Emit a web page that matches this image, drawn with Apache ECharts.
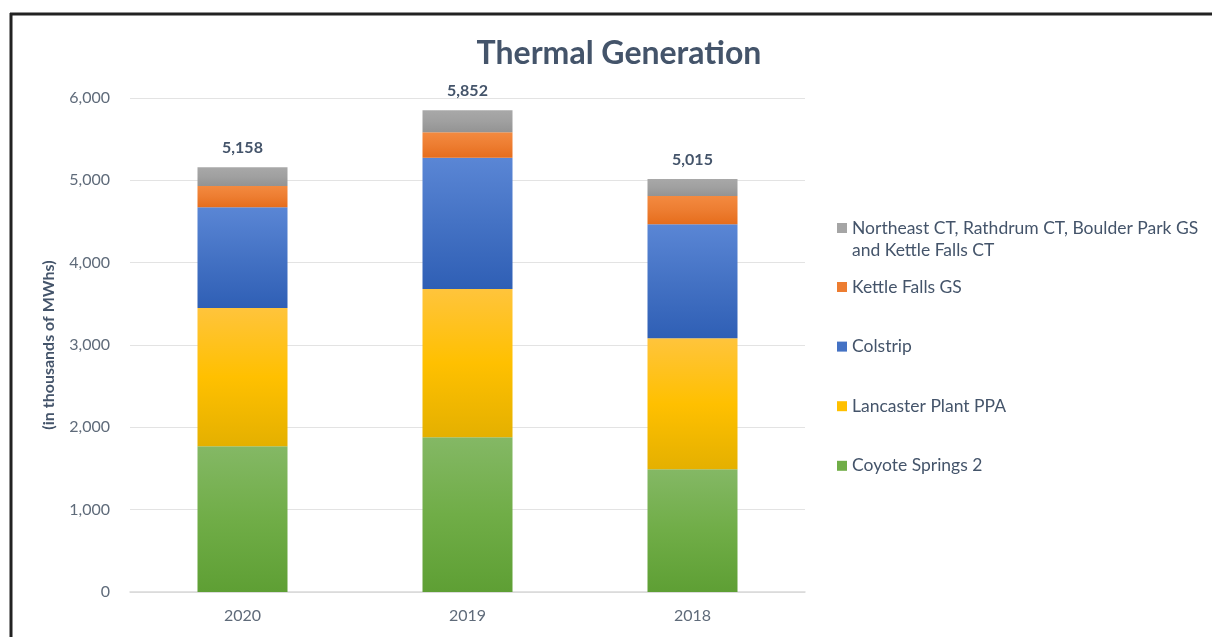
<!DOCTYPE html>
<html>
<head>
<meta charset="utf-8">
<script src="https://cdn.jsdelivr.net/npm/echarts@6/dist/echarts.min.js"></script>
<style>
  html, body { margin: 0; padding: 0; background: #fff; }
  #chart { width: 1212px; height: 637px; }
</style>
</head>
<body>
<div id="chart"></div>
<script>
var years = ["2020", "2019", "2018"];
var coyote = [1770, 1880, 1490];
var lancaster = [1680, 1800, 1591];
var colstrip = [1222, 1595, 1385];
var kettleGS = [259, 308, 344];
var peakers = [227, 269, 205];
var totals = [5158, 5852, 5015];

var names = {
  peakers: "Northeast CT, Rathdrum CT, Boulder Park GS\nand Kettle Falls CT",
  kettle: "Kettle Falls GS",
  colstrip: "Colstrip",
  lancaster: "Lancaster Plant PPA",
  coyote: "Coyote Springs 2"
};

var textColor = "#44546a";
var tickColor = "#5f6b7a";
var font = "Lato, 'Open Sans', sans-serif";

function grad(top, mid, bottom) {
  return {
    type: "linear", x: 0, y: 0, x2: 0, y2: 1,
    colorStops: [
      { offset: 0, color: top },
      { offset: 0.5, color: mid },
      { offset: 1, color: bottom }
    ]
  };
}

function bar(name, data, color) {
  return {
    name: name,
    type: "bar",
    stack: "total",
    data: data,
    barWidth: "40%",
    itemStyle: { color: color },
    emphasis: { disabled: true }
  };
}

var series = [
  bar(names.coyote, coyote, grad("#84b865", "#70ad47", "#5e9f34")),
  bar(names.lancaster, lancaster, grad("#ffc43c", "#ffc000", "#e4b000")),
  bar(names.colstrip, colstrip, grad("#5a86d5", "#4472c4", "#2f5fb5")),
  bar(names.kettle, kettleGS, grad("#f38a40", "#ed7d31", "#e66d1c")),
  bar(names.peakers, peakers, grad("#a8a8a8", "#a0a0a0", "#939393"))
];
// totals sit on top of the last stacked series
series[4].label = {
  show: true,
  position: "top",
  distance: 11,
  fontFamily: font,
  fontSize: 16,
  fontWeight: "bold",
  color: textColor,
  formatter: function (p) {
    return totals[p.dataIndex].toLocaleString("en-US");
  }
};

var legendText = {
  fontFamily: font,
  fontSize: 17.5,
  lineHeight: 22,
  color: textColor
};

var chart = echarts.init(document.getElementById("chart"));
chart.setOption({
  animation: false,
  title: {
    text: "Thermal Generation",
    left: 614,
    top: 33,
    textAlign: "center",
    textStyle: {
      fontFamily: font,
      fontSize: 32,
      fontWeight: "bold",
      color: textColor
    }
  },
  grid: { left: 130, right: 407, top: 98, bottom: 45 },
  legend: [
    {
      orient: "vertical",
      left: 837,
      top: 195,
      padding: 0,
      itemWidth: 10,
      itemHeight: 10,
      icon: "rect",
      selectedMode: false,
      data: [{ name: names.peakers, itemStyle: { color: "#a5a5a5" } }],
      // blank first line keeps the icon level with the first text line
      formatter: function (n) { return "\n" + n; },
      textStyle: legendText
    },
    {
      orient: "vertical",
      left: 837,
      top: 276,
      padding: 0,
      itemGap: 37.6,
      itemWidth: 10,
      itemHeight: 10,
      icon: "rect",
      selectedMode: false,
      data: [
        { name: names.kettle, itemStyle: { color: "#ed7d31" } },
        { name: names.colstrip, itemStyle: { color: "#4472c4" } },
        { name: names.lancaster, itemStyle: { color: "#ffc000" } },
        { name: names.coyote, itemStyle: { color: "#70ad47" } }
      ],
      textStyle: legendText
    }
  ],
  xAxis: {
    type: "category",
    data: years,
    axisLine: { lineStyle: { color: "#d9d9d9", width: 1.5 } },
    axisTick: { show: false },
    axisLabel: {
      margin: 16,
      fontFamily: font,
      fontSize: 16,
      color: tickColor
    }
  },
  yAxis: {
    type: "value",
    min: 0,
    max: 6000,
    interval: 1000,
    name: "(in thousands of MWhs)",
    nameLocation: "middle",
    nameGap: 73,
    nameTextStyle: {
      fontFamily: font,
      fontSize: 16,
      fontWeight: "bold",
      color: textColor
    },
    axisLine: { show: false },
    axisTick: { show: false },
    splitLine: { lineStyle: { color: "#e3e3e3", width: 1.2 } },
    axisLabel: {
      margin: 20,
      fontFamily: font,
      fontSize: 16,
      color: tickColor,
      formatter: function (v) { return v.toLocaleString("en-US"); }
    }
  },
  graphic: [
    { type: "line", shape: { x1: 10, y1: 14, x2: 1212, y2: 14 }, style: { stroke: "#222", lineWidth: 3 } },
    { type: "line", shape: { x1: 11, y1: 13, x2: 11, y2: 637 }, style: { stroke: "#222", lineWidth: 3 } }
  ],
  series: series
});
</script>
</body>
</html>
